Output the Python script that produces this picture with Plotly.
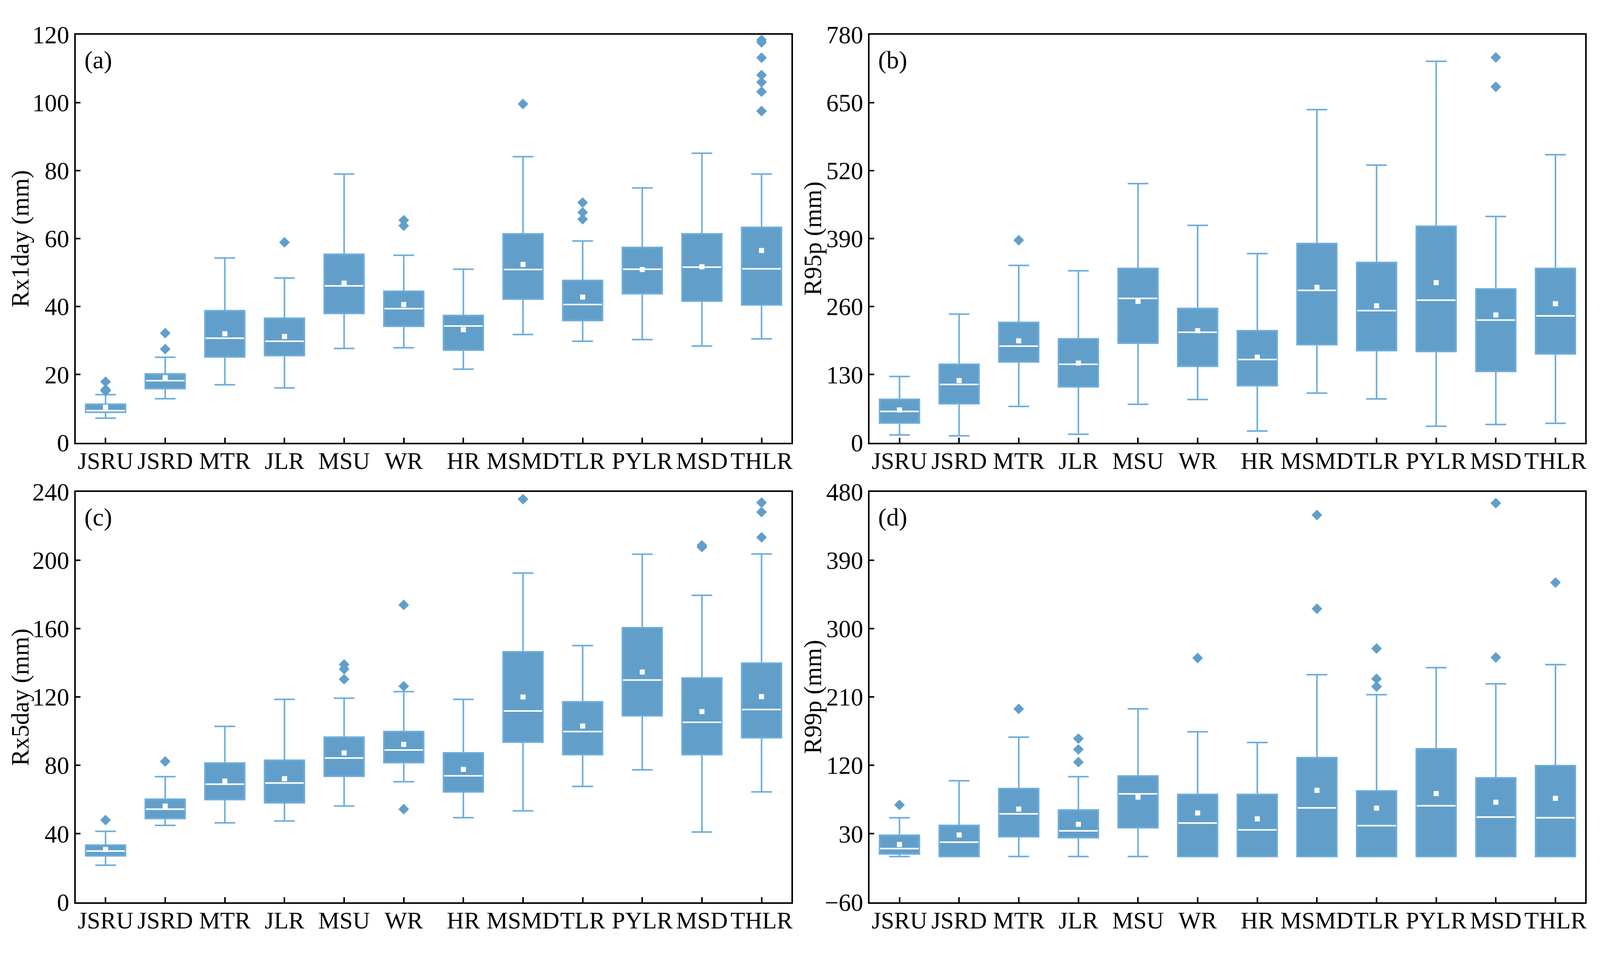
import plotly.graph_objects as go

# categories (river reaches)
cats = ["JSRU", "JSRD", "MTR", "JLR", "MSU", "WR", "HR", "MSMD", "TLR", "PYLR", "MSD", "THLR"]

# (a) Rx1day
rx1_low = [7.2, 12.9, 17.0, 16.1, 27.7, 27.9, 21.6, 31.8, 29.8, 30.3, 28.4, 30.5]
rx1_q1 = [8.9, 15.9, 25.2, 25.6, 38.0, 34.2, 27.2, 42.2, 35.9, 43.8, 41.6, 40.5]
rx1_med = [9.4, 18.2, 30.7, 29.8, 46.1, 39.4, 34.3, 50.9, 40.6, 51.0, 51.6, 51.1]
rx1_q3 = [11.3, 20.2, 38.8, 36.6, 55.4, 44.5, 37.4, 61.4, 47.7, 57.4, 61.4, 63.3]
rx1_up = [14.1, 25.1, 54.3, 48.4, 79.0, 55.1, 51.0, 84.1, 59.3, 74.9, 85.1, 79.0]
rx1_mean = [10.4, 19.1, 32.0, 31.2, 46.9, 40.6, 33.2, 52.4, 42.8, 50.9, 51.7, 56.5]
rx1_out = [[15.2, 15.6, 17.9], [27.5, 32.2], [], [58.9], [], [63.8, 65.4], [], [99.6],
           [65.7, 67.7, 70.6], [], [], [97.5, 103.2, 106.0, 108.1, 113.2, 117.7, 118.4]]

# (b) R95p
r95_low = [14.7, 13.0, 69.2, 15.9, 73.2, 82.3, 22.1, 94.7, 83.4, 31.2, 34.6, 36.9]
r95_q1 = [37.4, 74.3, 154.3, 106.6, 190.0, 145.8, 108.9, 187.2, 175.9, 174.2, 136.1, 169.6]
r95_med = [59.6, 111.2, 184.4, 149.8, 275.7, 211.0, 158.8, 291.0, 252.4, 272.3, 234.3, 242.2]
r95_q3 = [82.8, 149.8, 229.7, 198.5, 333.0, 256.4, 213.9, 380.6, 344.3, 413.5, 293.8, 333.0]
r95_up = [126.5, 245.6, 338.7, 328.5, 495.2, 415.2, 361.3, 636.5, 530.4, 729.0, 432.3, 550.3]
r95_mean = [62.4, 118.6, 194.6, 152.0, 270.0, 213.9, 163.4, 296.7, 261.5, 305.8, 243.9, 265.5]
r95_out = [[], [], [386.9], [], [], [], [], [], [], [], [680.2, 736.3], []]

# (c) Rx5day
rx5_low = [21.6, 44.9, 46.4, 47.5, 56.2, 70.4, 49.4, 53.4, 67.7, 77.4, 41.0, 64.5]
rx5_q1 = [27.1, 48.9, 60.0, 58.1, 73.6, 81.6, 64.5, 93.6, 86.3, 109.0, 86.3, 96.2]
rx5_med = [29.9, 54.4, 69.0, 69.7, 84.3, 89.0, 73.9, 111.8, 99.8, 129.9, 105.2, 112.7]
rx5_q3 = [33.4, 60.2, 81.4, 83.0, 96.5, 99.8, 87.3, 146.4, 117.2, 160.5, 131.1, 139.8]
rx5_up = [41.4, 73.4, 102.8, 118.6, 119.3, 123.1, 118.6, 192.5, 150.1, 203.5, 179.5, 203.7]
rx5_mean = [30.8, 56.2, 70.8, 72.2, 87.3, 92.3, 77.7, 120.0, 103.0, 134.6, 111.5, 120.2]
rx5_out = [[48.0], [82.3], [], [], [130.4, 136.3, 139.0], [54.4, 126.3, 173.9], [], [235.7],
           [], [], [207.7, 208.7], [213.4, 228.2, 233.7]]

# (d) R99p
r99_low = [0, 0, 0, 0, 0, 0, 0, 0, 0, 0, 0, 0]
r99_q1 = [3.4, 0, 26.1, 24.9, 37.9, 0, 0, 0, 0, 0, 0, 0]
r99_med = [10.4, 19.0, 56.2, 33.9, 82.5, 44.1, 35.1, 64.0, 40.6, 66.8, 51.9, 51.1]
r99_q3 = [28.0, 41.0, 89.5, 61.3, 106.0, 81.7, 81.7, 130.2, 86.4, 141.9, 103.6, 119.6]
r99_up = [51.1, 99.7, 157.2, 105.1, 194.4, 164.2, 150.1, 239.4, 213.1, 248.7, 227.3, 252.6]
r99_mean = [15.9, 28.4, 62.5, 42.5, 78.2, 57.4, 49.6, 87.2, 63.7, 82.9, 71.5, 76.6]
r99_out = [[68.0], [], [194.4], [124.3, 141.1, 155.2], [], [261.3], [], [326.2, 449.5],
           [223.7, 233.9, 273.8], [], [262.1, 465.1], [360.6]]

FILL = "#619fca"
EDGE = "#6eaddb"
FONT = "Liberation Serif, Times New Roman, serif"
BOX_W = 0.667

# the visible page is about 4094 x 2444 css px; map reference pixels onto it
SX, SY = 4094 / 4387, 2444 / 2446
FW, FH = 4074, 2424


def fx(px):
    return (px * SX - 8) / FW


def fy(px):
    return 1 - (px * SY - 8) / FH


panels = [
    ("(a)", "Rx1day (mm)", [0, 120], 20, 0, rx1_low, rx1_q1, rx1_med, rx1_q3, rx1_up, rx1_mean, rx1_out),
    ("(b)", "R95p (mm)", [0, 780], 130, 0, r95_low, r95_q1, r95_med, r95_q3, r95_up, r95_mean, r95_out),
    ("(c)", "Rx5day (mm)", [0, 240], 40, 0, rx5_low, rx5_q1, rx5_med, rx5_q3, rx5_up, rx5_mean, rx5_out),
    ("(d)", "R99p (mm)", [-60, 480], 90, -60, r99_low, r99_q1, r99_med, r99_q3, r99_up, r99_mean, r99_out),
]

xdoms = [[fx(208), fx(2173)], [fx(2388), fx(4353)]]
ydoms = [[fy(1133), fy(56)], [fy(2346), fy(1263)]]
title_x = [fx(56), fx(2232)]

fig = go.Figure()
pos = list(range(len(cats)))
layout = {}
annotations = []

for k, (lab, ytitle, yr, dt, t0, low, q1, med, q3, up, mean, out) in enumerate(panels):
    n = "" if k == 0 else str(k + 1)
    xa, ya = "x" + n, "y" + n

    fig.add_trace(go.Box(
        x=pos, q1=q1, median=med, q3=q3, lowerfence=low, upperfence=up,
        boxpoints=False, width=BOX_W, whiskerwidth=0.52,
        fillcolor=FILL, line=dict(color=EDGE, width=4),
        xaxis=xa, yaxis=ya, showlegend=False, hoverinfo="skip",
    ))

    # white median lines
    mx, my = [], []
    for i, m in enumerate(med):
        mx += [i - BOX_W / 2 + 0.01, i + BOX_W / 2 - 0.01, None]
        my += [m, m, None]
    fig.add_trace(go.Scatter(x=mx, y=my, mode="lines", line=dict(color="white", width=4),
                             xaxis=xa, yaxis=ya, showlegend=False, hoverinfo="skip"))

    # means
    fig.add_trace(go.Scatter(x=pos, y=mean, mode="markers",
                             marker=dict(symbol="square", size=13, color="white", line=dict(width=0)),
                             xaxis=xa, yaxis=ya, showlegend=False, hoverinfo="skip"))

    # outliers
    ox, oy = [], []
    for i, vals in enumerate(out):
        ox += [i] * len(vals)
        oy += vals
    fig.add_trace(go.Scatter(x=ox, y=oy, mode="markers",
                             marker=dict(symbol="diamond", size=21, color=FILL, line=dict(width=0)),
                             xaxis=xa, yaxis=ya, showlegend=False, hoverinfo="skip"))

    r, c = divmod(k, 2)
    layout["xaxis" + n] = dict(
        domain=xdoms[c], anchor=ya, range=[-0.5, len(cats) - 0.5],
        tickmode="array", tickvals=pos, ticktext=cats, tickangle=0,
        ticks="inside", ticklen=13, tickwidth=4, tickcolor="black",
        showline=True, linecolor="black", linewidth=4, mirror=True,
        showgrid=False, zeroline=False, ticklabelstandoff=-10,
        tickfont=dict(family=FONT, size=61, color="black"),
    )
    layout["yaxis" + n] = dict(
        domain=ydoms[r], anchor=xa, range=yr, dtick=dt, tick0=t0,
        ticks="inside", ticklen=12, tickwidth=4, tickcolor="black",
        showline=True, linecolor="black", linewidth=4, mirror=True,
        showgrid=False, zeroline=False, ticklabelstandoff=0,
        tickfont=dict(family=FONT, size=63, color="black"),
    )
    annotations.append(dict(
        text=lab, xref=xa + " domain", yref=ya + " domain", x=0.011, y=0.938,
        xanchor="left", yanchor="middle", showarrow=False,
        font=dict(family=FONT, size=64, color="black"),
    ))
    annotations.append(dict(
        text=ytitle, xref="paper", yref="paper", x=title_x[c], y=sum(ydoms[r]) / 2,
        xanchor="center", yanchor="middle", textangle=-90, showarrow=False,
        font=dict(family=FONT, size=63, color="black"),
    ))

fig.update_layout(
    **layout,
    annotations=annotations,
    width=FW, height=FH,
    margin=dict(l=0, r=0, t=0, b=0),
    paper_bgcolor="white", plot_bgcolor="white",
    showlegend=False,
)

fig.write_html("out.html")
